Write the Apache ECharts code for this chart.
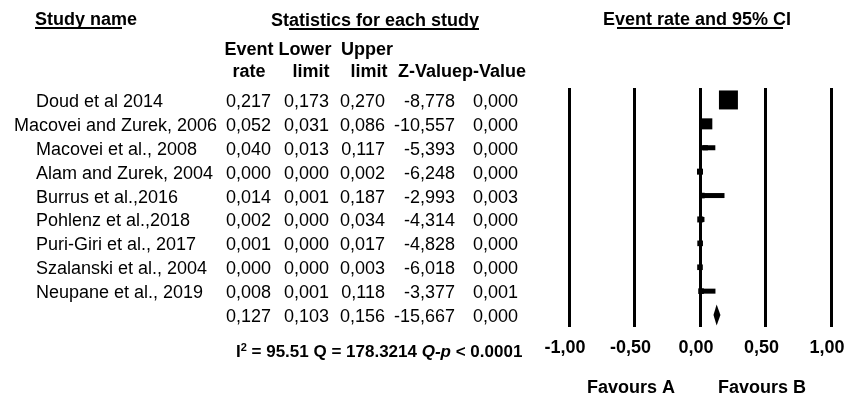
<!DOCTYPE html>
<html>
<head>
<meta charset="utf-8">
<script src="https://cdn.jsdelivr.net/npm/echarts@6/dist/echarts.min.js"></script>
<style>
html,body{margin:0;padding:0;background:#fff;}
#main{width:855px;height:396px;}
</style>
</head>
<body>
<div id="main"></div>
<script>
// ---- data ----
const studyNames = [
  'Doud et al 2014',
  'Macovei and Zurek, 2006',
  'Macovei et al., 2008',
  'Alam and Zurek, 2004',
  'Burrus et al.,2016',
  'Pohlenz et al.,2018',
  'Puri-Giri et al., 2017',
  'Szalanski et al., 2004',
  'Neupane et al., 2019',
  ''
];
const eventRate  = [0.217, 0.052, 0.040, 0.000, 0.014, 0.002, 0.001, 0.000, 0.008, 0.127];
const lowerLimit = [0.173, 0.031, 0.013, 0.000, 0.001, 0.000, 0.000, 0.000, 0.001, 0.103];
const upperLimit = [0.270, 0.086, 0.117, 0.002, 0.187, 0.034, 0.017, 0.003, 0.118, 0.156];
const zValue     = [-8.778, -10.557, -5.393, -6.248, -2.993, -4.314, -4.828, -6.018, -3.377, -15.667];
const pValue     = [0.000, 0.000, 0.000, 0.000, 0.003, 0.000, 0.000, 0.000, 0.001, 0.000];
const relWeight  = [40, 13.5, 3, 4, 3.5, 4, 3.5, 3.5, 3.5];   // relative weights (%)
const tickValues = [-1, -0.5, 0, 0.5, 1];
const tickLabels = ['-1,00', '-0,50', '0,00', '0,50', '1,00'];
const heterogeneity = {I2: '95.51', Q: '178.3214', Qp: '< 0.0001'};

// ---- rendering ----
const FF = '"Liberation Sans", Arial, Helvetica, sans-serif';
const fmt = v => v.toFixed(3).replace('.', ',');
const summaryIndex = studyNames.length - 1;

const measureCtx = document.createElement('canvas').getContext('2d');
measureCtx.font = '18px ' + FF;

const colRight = [271, 329, 385, 455, 518];
const colCenter = [249, 305, 367, 430, 494];

const chart = echarts.init(document.getElementById('main'), null, {renderer: 'canvas'});

function tableItem(params, api) {
  const i = params.dataIndex;
  const y = api.coord([0, i])[1] + 2;
  const kids = [];
  const name = studyNames[i];
  if (name) {
    const w = measureCtx.measureText(name).width;
    const overflow = 36 + w > 217;
    kids.push({type: 'text', style: {text: name, x: overflow ? 217 : 36, y: y, font: '18px ' + FF, fill: '#000',
      align: overflow ? 'right' : 'left', verticalAlign: 'middle'}});
  }
  const vals = [fmt(eventRate[i]), fmt(lowerLimit[i]), fmt(upperLimit[i]), fmt(zValue[i]), fmt(pValue[i])];
  vals.forEach((t, k) => {
    kids.push({type: 'text', style: {text: t, x: colRight[k], y: y, font: '18px ' + FF, fill: '#000',
      align: 'right', verticalAlign: 'middle'}});
  });
  return {type: 'group', children: kids};
}

function forestItem(params, api) {
  const i = params.dataIndex;
  const yc = api.coord([0, i])[1];
  const xr = api.coord([eventRate[i], i])[0];
  const xl = api.coord([lowerLimit[i], i])[0];
  const xu = api.coord([upperLimit[i], i])[0];
  if (i === summaryIndex) {
    return {type: 'polygon', shape: {points: [[xl, yc], [xr, yc - 10.5], [xu, yc], [xr, yc + 10.5]]},
      style: {fill: '#000'}};
  }
  const s = 3 * Math.sqrt(relWeight[i]);
  return {type: 'group', children: [
    {type: 'rect', shape: {x: xl, y: yc - 2.5, width: Math.max(xu - xl, 0.5), height: 5}, style: {fill: '#000'}},
    {type: 'rect', shape: {x: xr - s / 2, y: yc - s / 2, width: s, height: s}, style: {fill: '#000'}}
  ]};
}

const rowIdx = studyNames.map((_, i) => i);

function txt(text, x, y, size, align) {
  return {type: 'text', x: 0, y: 0, silent: true,
    style: {text: text, x: x, y: y, font: 'bold ' + size + 'px ' + FF, fill: '#000',
      align: align, textAlign: align, verticalAlign: 'middle', textVerticalAlign: 'middle'}};
}
function uline(x1, x2, y) {
  return {type: 'line', silent: true, shape: {x1: x1, y1: y, x2: x2, y2: y}, style: {stroke: '#000', lineWidth: 2}};
}

const graphics = [
  txt('Study name', 35, 20, 18, 'left'),
  uline(35, 122, 28),
  txt('Statistics for each study', 375, 21, 18, 'center'),
  uline(289, 479, 29),
  txt('Event rate and 95% CI', 697, 20, 18, 'center'),
  uline(617, 783, 28),
  txt('Event', colCenter[0], 50, 18, 'center'),
  txt('Lower', colCenter[1], 50, 18, 'center'),
  txt('Upper', colCenter[2], 50, 18, 'center'),
  txt('rate', colCenter[0], 72, 18, 'center'),
  txt('limit', colCenter[1] + 6, 72, 18, 'center'),
  txt('limit', colCenter[2] + 2, 72, 18, 'center'),
  txt('Z-Value', colCenter[3], 72, 18, 'center'),
  txt('p-Value', colCenter[4], 72, 18, 'center'),
  txt('Favours A', 631, 388, 18, 'center'),
  txt('Favours B', 762, 388, 18, 'center'),
  {type: 'text', silent: true, style: {
    text: '{a|I}{s|2}{a| = ' + heterogeneity.I2 + ' Q = ' + heterogeneity.Q + ' }{i|Q-p}{a| ' + heterogeneity.Qp + '}',
    x: 236, y: 352, align: 'left', verticalAlign: 'middle', fill: '#000',
    rich: {
      a: {font: 'bold 17px ' + FF, fill: '#000'},
      s: {font: 'bold 11px ' + FF, fill: '#000', padding: [0, 0, 9, 0]},
      i: {font: 'italic bold 17px ' + FF, fill: '#000'}
    }
  }}
];

const option = {
  animation: false,
  backgroundColor: '#fff',
  grid: {left: 569, right: 24, top: 88, bottom: 69},
  xAxis: {
    type: 'value', min: -1, max: 1, interval: 0.5,
    axisLine: {show: false}, axisTick: {show: false},
    splitLine: {show: true, lineStyle: {color: '#000', width: 3}},
    axisLabel: {
      formatter: v => tickLabels[tickValues.indexOf(Math.round(v * 100) / 100)],
      color: '#000', fontSize: 18, fontWeight: 'bold', fontFamily: FF, margin: 12,
      padding: [0, 8, 0, 0]
    }
  },
  yAxis: {type: 'category', inverse: true, data: rowIdx, show: false},
  series: [
    {type: 'custom', renderItem: forestItem, data: rowIdx.map(i => [eventRate[i], i]), clip: false, silent: true},
    {type: 'custom', renderItem: tableItem, data: rowIdx.map(i => [0, i]), clip: false, silent: true}
  ],
  graphic: graphics
};
chart.setOption(option);
</script>
</body>
</html>
